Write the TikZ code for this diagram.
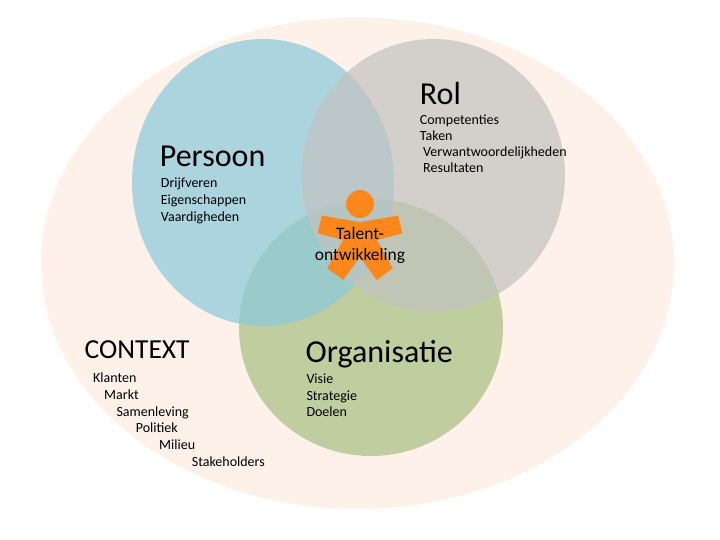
\documentclass[tikz,border=0pt]{standalone}
\usepackage{fontspec}
\setmainfont{Carlito}
\definecolor{beige}{RGB}{253,241,233}
\definecolor{cblue}{RGB}{139,201,219}
\definecolor{cgray}{RGB}{194,194,193}
\definecolor{cgreen}{RGB}{167,190,129}
\definecolor{corange}{RGB}{252,136,28}
\begin{document}
\begin{tikzpicture}[x=1pt,y=-1pt,
  txt/.style={anchor=base west, inner sep=0pt, font=\fontsize{14}{17}\selectfont},
  hd/.style={anchor=base west, inner sep=0pt, font=\fontsize{32}{38}\selectfont},
  ctxhd/.style={anchor=base west, inner sep=0pt, font=\fontsize{27.5}{33}\selectfont},
  tal/.style={anchor=base, inner sep=0pt, font=\fontsize{17.5}{21}\selectfont},
  circ/.style={fill opacity=0.7}]
\useasboundingbox (0,0) rectangle (720,540);
% context ellipse
\fill[beige] (357.5,263.25) ellipse [x radius=316.5, y radius=245.75];
% three circles
\fill[cgreen, circ] (371,327.5) ellipse [x radius=132, y radius=128.5];
\fill[cblue, circ] (263,182.5) ellipse [x radius=131, y radius=143.5];
\fill[cgray, circ] (433.3,175.3) ellipse [x radius=131.7, y radius=136.3];
% figure
\fill[corange] (360,204) circle [radius=14];
\fill[corange] (360,222) -- (321.7,215.7) -- (317.7,233.3) -- (343,240) -- (327.3,268.3)
  -- (343.3,280) -- (360,257) -- (376.7,280) -- (392.7,268.3) -- (377,240)
  -- (402.3,233.3) -- (398.3,215.7) -- cycle;
\node[tal] (t1) at (360,239.3) {Talent-};
\node[tal] (t2) at (360,260) {ontwikkeling};
% Persoon
\node[hd] (persoon) at (159.7,167) {Persoon};
\node[txt] (p1) at (160.7,188) {Drijfveren};
\node[txt] (p2) at (160.7,205) {Eigenschappen};
\node[txt] (p3) at (160.7,222) {Vaardigheden};
% Rol
\node[hd] (rol) at (419.7,105) {Rol};
\node[txt] (r1) at (419.7,125) {Competenties};
\node[txt] (r2) at (419.7,141) {Taken};
\node[txt] (r3) at (423,157) {Verwantwoordelijkheden};
\node[txt] (r4) at (423,173) {Resultaten};
% Organisatie
\node[hd] (org) at (305.5,362.5) {Organisatie};
\node[txt] (o1) at (306.3,383.3) {Visie};
\node[txt] (o2) at (306.3,400) {Strategie};
\node[txt] (o3) at (306.3,416.7) {Doelen};
% Context
\node[ctxhd] (ctx) at (84.5,358.5) {CONTEXT};
\node[txt] (c1) at (93,382) {Klanten};
\node[txt] (c2) at (104,399) {Markt};
\node[txt] (c3) at (116.3,416) {Samenleving};
\node[txt] (c4) at (135.7,432) {Politiek};
\node[txt] (c5) at (159,449) {Milieu};
\node[txt] (c6) at (191.7,466.5) {Stakeholders};
\end{tikzpicture}
\end{document}
